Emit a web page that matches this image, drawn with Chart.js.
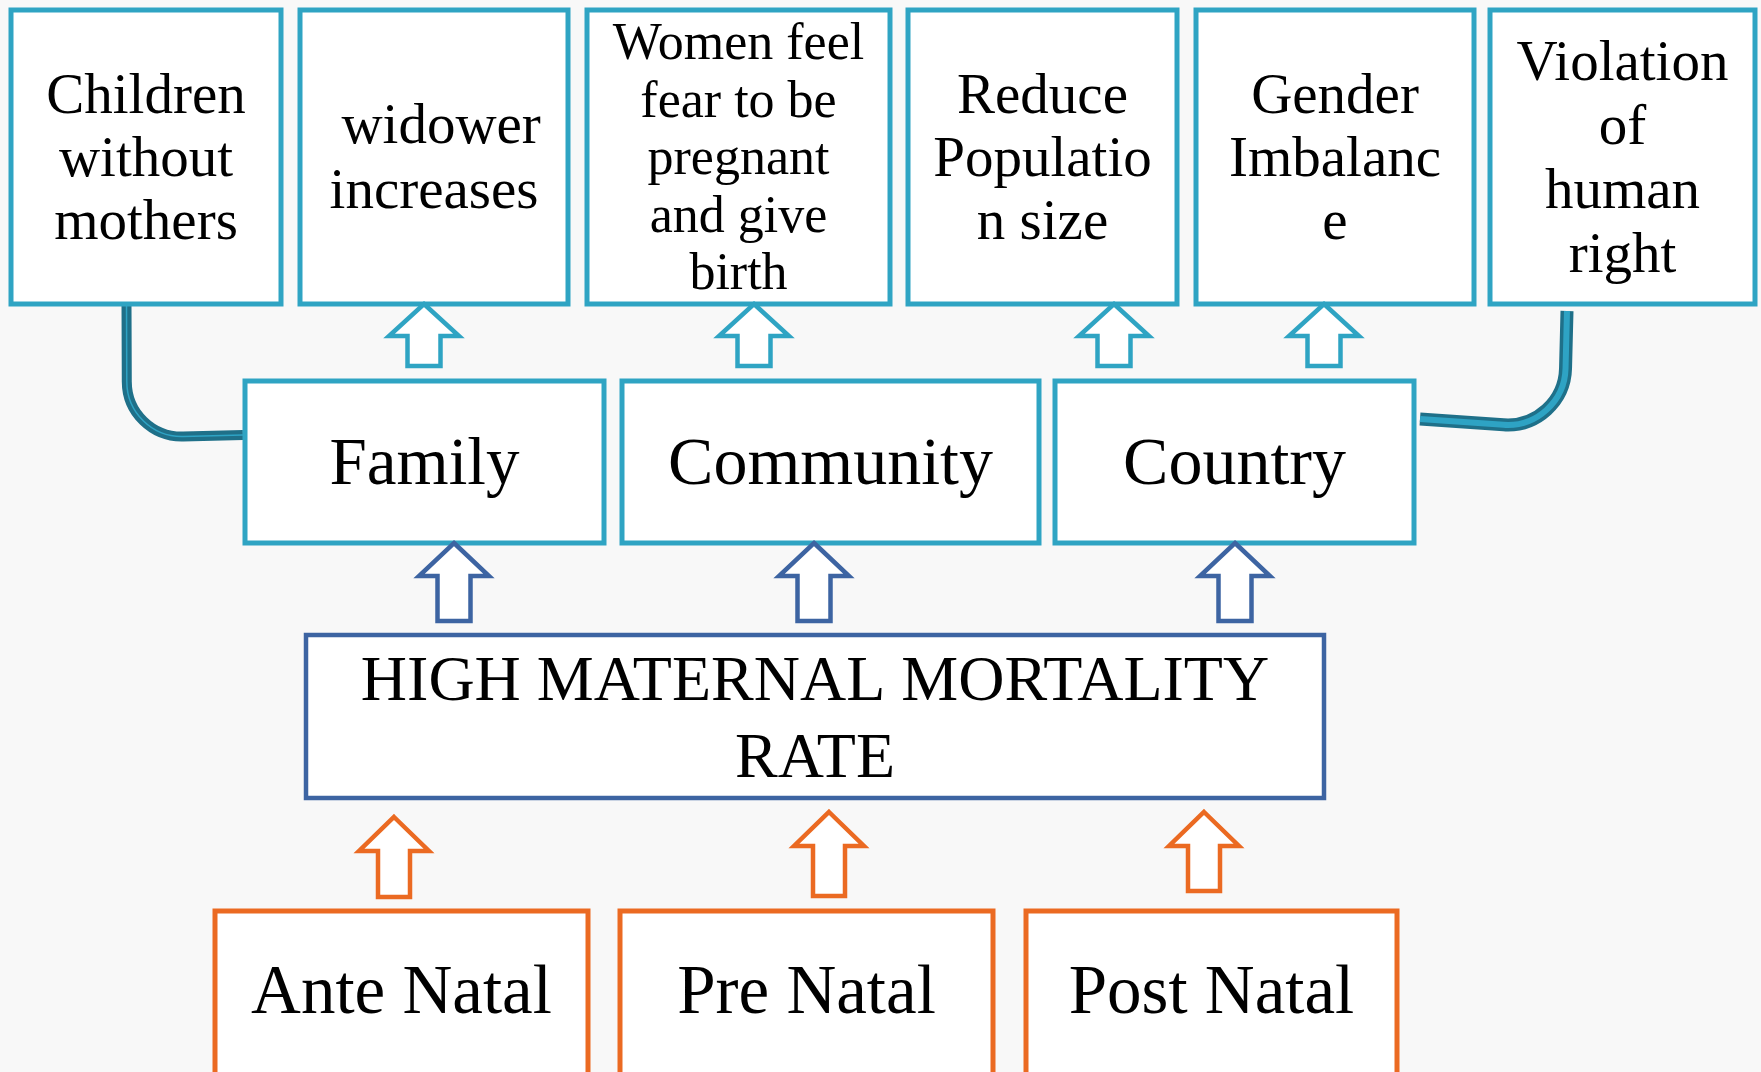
<!DOCTYPE html>
<html>
<head>
<meta charset="utf-8">
<script src="https://cdn.jsdelivr.net/npm/chart.js@4.4.1/dist/chart.umd.min.js"></script>
<style>
  html, body { margin: 0; padding: 0; background: #f8f8f8; }
  #wrap { width: 1761px; height: 1072px; }
</style>
</head>
<body>
<div id="wrap"><canvas id="c" width="1761" height="1072"></canvas></div>
<script>
// ---------- content ----------
const effectLabels = [
  ["Children", "without", "mothers"],
  [" widower", "increases"],
  ["Women feel", "fear to be", "pregnant", "and give", "birth"],
  ["Reduce", "Populatio", "n size"],
  ["Gender", "Imbalanc", "e"],
  ["Violation", "of", "human", "right"]
];
const levelLabels = ["Family", "Community", "Country"];
const coreLabel = ["HIGH MATERNAL MORTALITY", "RATE"];
const causeLabels = ["Ante Natal", "Pre Natal", "Post Natal"];

// ---------- layout (diagram units = scale units) ----------
const effectBoxX = [[11, 281], [300, 568], [587, 890], [908, 1177], [1196, 1474], [1490, 1755]];
const effectBoxY = [10, 304];
const effectFont = [57, 57, 52, 57, 57, 57];
const effectLine = [63, 65, 57.5, 63, 63, 64];
const effectArrowX = [424, 754, 1114, 1324];
const levelBoxX = [[245, 604], [622, 1039], [1055, 1414]];
const levelBoxY = [381, 543];
const levelFont = [67, 68, 68];
const levelArrowX = [454, 814, 1235];
const coreBoxX = [306, 1324];
const coreBoxY = [635, 798];
const causeBoxX = [[215, 588], [620, 993], [1026, 1397]];
const causeBoxY = [911, 1120];
const causeArrowX = [394, 829, 1204];
const causeArrowTip = [817, 812, 812];
const causeArrowBottom = [897, 896, 891];

const C_LIGHT = '#2fa4c3';
const C_DARK = '#3d64a2';
const C_ORANGE = '#eb6a22';
const C_CONN_DARK = '#1f7089';
const C_CONN_LIGHT = '#2ea3c4';
const FONT = '"Liberation Serif", "Times New Roman", serif';

const diagram = {
  id: 'diagram',
  beforeDraw(chart) {
    const ctx = chart.ctx;
    ctx.save();
    ctx.fillStyle = '#f8f8f8';
    ctx.fillRect(0, 0, chart.width, chart.height);
    ctx.restore();
  },
  afterDatasetsDraw(chart) {
    const ctx = chart.ctx;
    const sx = v => chart.scales.x.getPixelForValue(v);
    const sy = v => chart.scales.y.getPixelForValue(v);

    function box(x0, x1, y0, y1, color, lw) {
      ctx.save();
      ctx.fillStyle = '#ffffff';
      ctx.strokeStyle = color;
      ctx.lineWidth = lw;
      const px = sx(x0), py = sy(y0), pw = sx(x1) - sx(x0), ph = sy(y1) - sy(y0);
      ctx.fillRect(px, py, pw, ph);
      ctx.strokeRect(px, py, pw, ph);
      ctx.restore();
    }
    function text(lines, cx, cy, size, lh) {
      ctx.save();
      ctx.fillStyle = '#000';
      ctx.font = size + 'px ' + FONT;
      ctx.textAlign = 'center';
      ctx.textBaseline = 'alphabetic';
      const n = lines.length;
      lines.forEach((t, i) => {
        const by = cy + (i - (n - 1) / 2) * lh + 0.33 * size;
        ctx.fillText(t, sx(cx), sy(by));
      });
      ctx.restore();
    }
    function arrow(cx, tip, head, bottom, hh, sh, color, lw) {
      ctx.save();
      ctx.beginPath();
      ctx.moveTo(sx(cx), sy(tip));
      ctx.lineTo(sx(cx + hh), sy(head));
      ctx.lineTo(sx(cx + sh), sy(head));
      ctx.lineTo(sx(cx + sh), sy(bottom));
      ctx.lineTo(sx(cx - sh), sy(bottom));
      ctx.lineTo(sx(cx - sh), sy(head));
      ctx.lineTo(sx(cx - hh), sy(head));
      ctx.closePath();
      ctx.fillStyle = '#ffffff';
      ctx.fill();
      ctx.strokeStyle = color;
      ctx.lineWidth = lw;
      ctx.lineJoin = 'miter';
      ctx.stroke();
      ctx.restore();
    }
    function connector(pts, radius, outerW, innerW) {
      const path = () => {
        ctx.beginPath();
        ctx.moveTo(sx(pts[0][0]), sy(pts[0][1]));
        ctx.arcTo(sx(pts[1][0]), sy(pts[1][1]), sx(pts[2][0]), sy(pts[2][1]), radius);
        ctx.lineTo(sx(pts[2][0]), sy(pts[2][1]));
      };
      ctx.save();
      ctx.lineCap = 'butt';
      path();
      ctx.strokeStyle = C_CONN_DARK;
      ctx.lineWidth = outerW;
      ctx.stroke();
      path();
      ctx.strokeStyle = C_CONN_LIGHT;
      ctx.lineWidth = innerW;
      ctx.stroke();
      ctx.restore();
    }

    // connectors (behind boxes)
    connector([[126.5, 304], [127, 438], [243, 435]], 55, 10, 1.5);
    connector([[1420, 419], [1564, 429], [1567, 311]], 58, 13, 6);

    // effect boxes
    effectLabels.forEach((lines, i) => {
      const [x0, x1] = effectBoxX[i];
      box(x0, x1, effectBoxY[0], effectBoxY[1], C_LIGHT, 5);
      text(lines, (x0 + x1) / 2, (effectBoxY[0] + effectBoxY[1]) / 2, effectFont[i], effectLine[i]);
    });
    // level boxes
    levelLabels.forEach((lab, i) => {
      const [x0, x1] = levelBoxX[i];
      box(x0, x1, levelBoxY[0], levelBoxY[1], C_LIGHT, 5);
      text([lab], (x0 + x1) / 2, (levelBoxY[0] + levelBoxY[1]) / 2, levelFont[i], 70);
    });
    // core box
    box(coreBoxX[0], coreBoxX[1], coreBoxY[0], coreBoxY[1], C_DARK, 4.5);
    text(coreLabel, (coreBoxX[0] + coreBoxX[1]) / 2, 717, 64, 77);
    // cause boxes
    causeLabels.forEach((lab, i) => {
      const [x0, x1] = causeBoxX[i];
      box(x0, x1, causeBoxY[0], causeBoxY[1], C_ORANGE, 5);
      text([lab], (x0 + x1) / 2, 990, 69, 70);
    });

    // arrows
    effectArrowX.forEach(cx => arrow(cx, 304, 336, 366, 35, 16.5, C_LIGHT, 4.5));
    levelArrowX.forEach(cx => arrow(cx, 543, 576, 621, 35, 16.5, C_DARK, 4.5));
    causeArrowX.forEach((cx, i) => arrow(cx, causeArrowTip[i], causeArrowTip[i] + 34, causeArrowBottom[i], 35, 16, C_ORANGE, 4.5));
  }
};

new Chart(document.getElementById('c'), {
  type: 'scatter',
  data: { datasets: [{ data: [], pointRadius: 0 }] },
  options: {
    responsive: false,
    animation: false,
    devicePixelRatio: 1,
    layout: { padding: 0 },
    plugins: { legend: { display: false }, tooltip: { enabled: false }, title: { display: false } },
    scales: {
      x: { type: 'linear', min: 0, max: 1761, display: false },
      y: { type: 'linear', min: 0, max: 1072, reverse: true, display: false }
    }
  },
  plugins: [diagram]
});
</script>
</body>
</html>
